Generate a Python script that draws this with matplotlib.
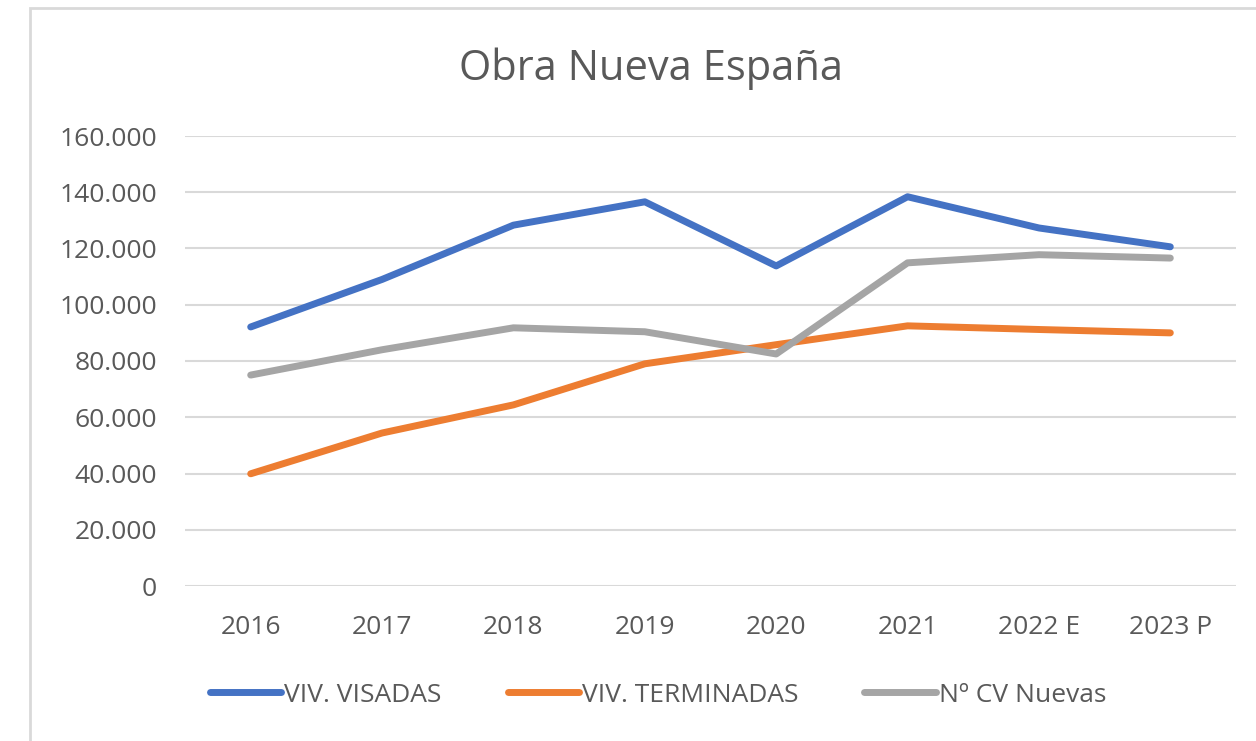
import matplotlib.pyplot as plt
from matplotlib.patches import Rectangle
from matplotlib.ticker import FuncFormatter

# datos
years = ['2016', '2017', '2018', '2019', '2020', '2021', '2022 E', '2023 P']
visadas = [92100, 109000, 128300, 136600, 113800, 138400, 127300, 120600]
terminadas = [39900, 54400, 64400, 79000, 85800, 92500, 91200, 90000]
cv_nuevas = [75000, 84000, 91800, 90400, 82500, 114900, 117800, 116600]

fig = plt.figure(figsize=(12.56, 7.41), dpi=100)
plt.rcParams['font.family'] = ['Open Sans', 'DejaVu Sans']

# marco del área del gráfico (estilo Excel)
fig.patches.append(Rectangle((30 / 1256, -0.1), 1.2, 1 - 8 / 741 + 0.1,
                             transform=fig.transFigure, fill=False,
                             edgecolor='#d9d9d9', linewidth=2))

ax = fig.add_axes([185 / 1256, 1 - 586 / 741, (1236 - 185) / 1256, (586 - 136) / 741])
x = range(len(years))
ax.plot(x, visadas, color='#4472C4', linewidth=5, label='VIV. VISADAS', solid_capstyle='round')
ax.plot(x, terminadas, color='#ED7D31', linewidth=5, label='VIV. TERMINADAS', solid_capstyle='round')
ax.plot(x, cv_nuevas, color='#A5A5A5', linewidth=5, label='Nº CV Nuevas', solid_capstyle='round')

ax.set_xlim(-0.5, len(years) - 0.5)
ax.set_ylim(0, 160000)
ax.set_yticks(range(0, 160001, 20000))
ax.yaxis.set_major_formatter(FuncFormatter(lambda v, p: f'{int(v):,}'.replace(',', '.')))
ax.set_xticks(list(x))
ax.set_xticklabels(years)
ax.grid(axis='y', color='#d9d9d9', linewidth=1.5)
ax.set_axisbelow(True)
for s in ax.spines.values():
    s.set_visible(False)
ax.tick_params(length=0, labelsize=19, labelcolor='#595959')
ax.tick_params(axis='x', pad=21)
ax.tick_params(axis='y', pad=20)

fig.text(651 / 1256, 1 - 80 / 741, 'Obra Nueva España', ha='center', va='baseline',
         fontsize=30, color='#595959')

fig.legend(loc='center', bbox_to_anchor=(658 / 1256, 1 - 695 / 741), ncol=3,
           frameon=False, fontsize=19, labelcolor='#595959', handlelength=2.7,
           columnspacing=2.5, handletextpad=0.12)

fig.savefig('out.png', dpi=100)
